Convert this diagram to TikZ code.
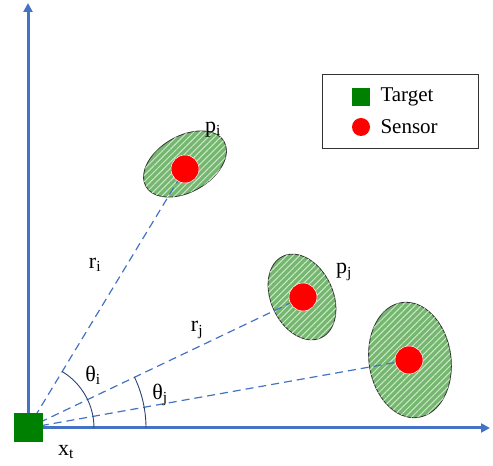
\documentclass[tikz,border=0pt]{standalone}
\usepackage{fontspec}
\setmainfont{Liberation Serif}
\usetikzlibrary{arrows.meta,patterns.meta,shapes.geometric}
\definecolor{axisblue}{RGB}{68,114,196}
\definecolor{zonegreen}{RGB}{118,182,112}
\definecolor{stripegreen}{RGB}{200,235,198}
\definecolor{targetgreen}{RGB}{0,128,0}

\begin{document}
\begin{tikzpicture}[x=1pt, y=1pt,
  axis/.style={axisblue, line width=3pt, -{Triangle[length=9pt,width=9pt]}},
  ray/.style={axisblue, line width=1.2pt, dash pattern=on 8pt off 5pt},
  anglearc/.style={axisblue!60!black, line width=0.9pt},
  zone/.style={ellipse, draw=black!80, line width=0.8pt, fill=zonegreen, inner sep=0pt,
    postaction={pattern={Lines[angle=45, distance=4.5pt, line width=1pt]}, pattern color=stripegreen}},
  sensor/.style={circle, fill=red, draw=white, line width=0.5pt, minimum size=28pt, inner sep=0pt},
  target/.style={rectangle, fill=targetgreen, minimum size=29pt, inner sep=0pt},
  lbl/.style={font=\fontsize{22}{22}\selectfont}]
  \useasboundingbox (0,0) rectangle (493,466);
  \coordinate (O) at (28,38);
  \draw[axis] (O) -- (28,463);
  \draw[axis] (O) -- (490,38);
  \node[zone, minimum width=90pt, minimum height=56pt, rotate=30] (zi) at (185,302) {};
  \node[zone, minimum width=62pt, minimum height=90pt, rotate=25] (zj) at (302,169) {};
  \node[zone, minimum width=82pt, minimum height=116pt, rotate=8] (zk) at (410,106) {};
  \draw[ray] (O) -- (185,297);
  \draw[ray] (O) -- (303,169);
  \draw[ray] (O) -- (409,106);
  \node[sensor] (si) at (185,297) {};
  \node[sensor] (sj) at (303,169) {};
  \node[sensor] (sk) at (409,106) {};
  \draw[anglearc] (O) ++(0:66) arc[start angle=0, end angle=58.8, radius=66];
  \draw[anglearc] (O) ++(0:118) arc[start angle=0, end angle=25.5, radius=118];
  \node[target] (xt) at (O) {};
  \node[lbl] at (66,14) {x\textsubscript{t}};
  \node[lbl] at (213,336) {p\textsubscript{i}};
  \node[lbl] at (344,194) {p\textsubscript{j}};
  \node[lbl] at (95,201) {r\textsubscript{i}};
  \node[lbl] at (197,136) {r\textsubscript{j}};
  \node[lbl] at (93,91) {θ\textsubscript{i}};
  \node[lbl] at (160,71) {θ\textsubscript{j}};
  % legend
  \draw[black!80, line width=0.8pt] (322,318) rectangle (478,392);
  \node[rectangle, fill=targetgreen, minimum size=18pt, inner sep=0pt] (lt) at (361,369) {};
  \node[circle, fill=red, minimum size=18pt, inner sep=0pt] (ls) at (361,339) {};
  \node[anchor=west, font=\fontsize{21}{21}\selectfont] at (377,369) {Target};
  \node[anchor=west, font=\fontsize{21}{21}\selectfont] at (377,339) {Sensor};
\end{tikzpicture}
\end{document}
